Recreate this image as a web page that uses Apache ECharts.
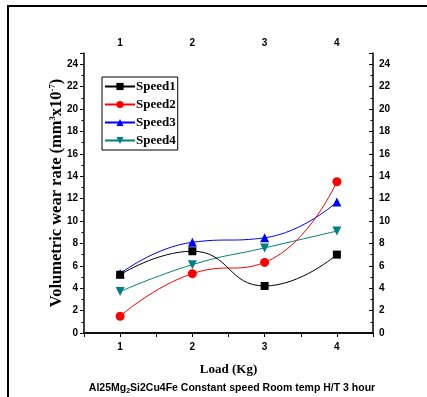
<!DOCTYPE html>
<html><head><meta charset="utf-8">
<script src="https://cdn.jsdelivr.net/npm/echarts@6/dist/echarts.min.js"></script>
<style>html,body{margin:0;padding:0;background:#fff}#c{width:427px;height:397px}</style>
</head><body><div id="c"></div>
<script>
const loads = [1, 2, 3, 4];
const seriesNames = ['Speed1', 'Speed2', 'Speed3', 'Speed4'];
const speed1 = [5.2, 7.3, 4.2, 7.0];
const speed2 = [1.5, 5.3, 6.3, 13.5];
const speed3 = [5.3, 8.1, 8.5, 11.7];
const speed4 = [3.7, 6.1, 7.6, 9.1];
const colors = ['#000000', '#ff0000', '#0000ff', '#008080'];
const symbols = ['rect', 'circle', 'triangle', 'path://M0,0 L10,0 L5,9 Z'];
const allValues = [speed1, speed2, speed3, speed4];

const chart = echarts.init(document.getElementById('c'), null, {renderer: 'canvas'});
const lblStyle = {color: '#000', fontFamily: 'Liberation Sans, Arial', fontWeight: 'bold', fontSize: 10};
const axLine = {show: true, lineStyle: {color: '#000', width: 1.5}};
const intFmt = v => (Math.abs(v - Math.round(v)) < 1e-6 ? String(Math.round(v)) : '');

const xCommon = {
  type: 'value', min: 0.5, max: 4.5, interval: 0.5,
  axisLine: axLine, splitLine: {show: false},
  axisTick: {show: true, length: 4, lineStyle: {color: '#000', width: 1}},
};
const yCommon = {
  type: 'value', min: 0, max: 25, interval: 2,
  axisLine: axLine, splitLine: {show: false},
  axisTick: {show: true, length: 4, lineStyle: {color: '#000', width: 1}},
  minorTick: {show: true, splitNumber: 2, length: 2.5, lineStyle: {color: '#000', width: 1}},
};

chart.setOption({
  animation: false,
  backgroundColor: '#fff',
  graphic: [{type: 'rect', shape: {x: 8, y: 6, width: 440, height: 420}, style: {fill: 'none', stroke: '#000', lineWidth: 2}, silent: true, z: 100}],
  title: {
    text: '{n|Al25Mg}{s|2}{n|Si2Cu4Fe Constant speed Room temp H/T 3 hour}',
    left: 227, top: 376, textAlign: 'center',
    textStyle: {rich: {
      n: {fontFamily: 'Liberation Sans, Arial', fontWeight: 'bold', fontSize: 10.5, color: '#000', lineHeight: 14},
      s: {fontFamily: 'Liberation Sans, Arial', fontWeight: 'bold', fontSize: 7, color: '#000', lineHeight: 14, verticalAlign: 'bottom', padding: [6, 0, 0, 0]}
    }}
  },
  legend: {
    data: seriesNames, orient: 'vertical', left: 102, top: 77,
    itemWidth: 30, itemHeight: 9, itemGap: 5,
    padding: [3, 2, 3, 2], borderColor: '#000', borderWidth: 1,
    textStyle: {fontFamily: 'Liberation Serif, Times New Roman', fontWeight: 'bold', fontSize: 13, color: '#000', padding: [0, 0, 0, -4]}
  },
  grid: {left: 84, right: 54, top: 53, bottom: 64},
  xAxis: [
    Object.assign({}, xCommon, {
      position: 'bottom', name: 'Load (Kg)', nameLocation: 'middle', nameGap: 30,
      nameTextStyle: {fontFamily: 'Liberation Serif, Times New Roman', fontWeight: 'bold', fontSize: 13, color: '#000'},
      axisTick: Object.assign({}, xCommon.axisTick, {inside: false}),
      axisLabel: Object.assign({}, lblStyle, {margin: 9, formatter: intFmt})
    }),
    Object.assign({}, xCommon, {
      position: 'top',
      axisTick: Object.assign({}, xCommon.axisTick, {inside: true}),
      axisLabel: Object.assign({}, lblStyle, {margin: 5, formatter: intFmt})
    })
  ],
  yAxis: [
    Object.assign({}, yCommon, {
      position: 'left',
      name: '{n|Volumetric wear rate (mm}{s|3}{n|x10}{s|-7}{n|)}',
      nameLocation: 'middle', nameGap: 19, nameRotate: 90, nameMoveOverlap: false,
      nameTextStyle: {rich: {
        n: {fontFamily: 'Liberation Serif, Times New Roman', fontWeight: 'bold', fontSize: 16.5, color: '#000', lineHeight: 17},
        s: {fontFamily: 'Liberation Serif, Times New Roman', fontWeight: 'bold', fontSize: 8.5, color: '#000', lineHeight: 17, verticalAlign: 'top', padding: [0, 0, 8, 0]}
      }},
      axisTick: Object.assign({}, yCommon.axisTick, {inside: false}),
      minorTick: Object.assign({}, yCommon.minorTick),
      axisLabel: Object.assign({}, lblStyle, {margin: 6, showMaxLabel: false})
    }),
    Object.assign({}, yCommon, {
      position: 'right',
      axisTick: Object.assign({}, yCommon.axisTick, {inside: true}),
      minorTick: Object.assign({}, yCommon.minorTick),
      axisLabel: Object.assign({}, lblStyle, {margin: 6, showMaxLabel: false})
    })
  ],
  series: seriesNames.map((nm, i) => ({
    name: nm, type: 'line', xAxisIndex: 0, yAxisIndex: 0,
    data: loads.map((x, j) => [x, allValues[i][j]]),
    smooth: 0.5, symbol: symbols[i], symbolSize: i === 0 ? 8 : 9,
    lineStyle: {color: colors[i], width: 1},
    itemStyle: {color: colors[i]},
    z: 10 - i
  }))
});
</script></body></html>
